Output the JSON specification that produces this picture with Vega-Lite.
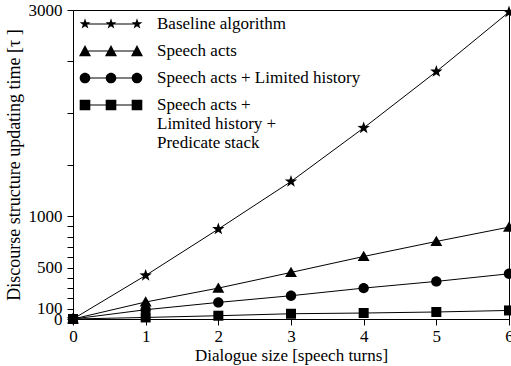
{
  "$schema": "https://vega.github.io/schema/vega-lite/v6.json",
  "autosize": "none",
  "width": 436,
  "height": 309,
  "padding": {"left": 73, "top": 10, "right": 2, "bottom": 47},
  "background": "white",
  "config": {
    "font": "Liberation Serif",
    "view": {"stroke": "black", "strokeWidth": 1},
    "axis": {
      "labelFont": "Liberation Serif",
      "titleFont": "Liberation Serif",
      "labelFontSize": 17,
      "titleFontSize": 17,
      "titleFontWeight": "normal",
      "labelColor": "black",
      "titleColor": "black",
      "domainColor": "black",
      "tickColor": "black",
      "grid": false,
      "labelFlush": false,
      "labelOverlap": false
    },
    "legend": {
      "labelFont": "Liberation Serif",
      "labelFontSize": 17,
      "labelColor": "black"
    }
  },
  "data": {
    "values": [
      {"turns": 0, "time": 0, "method": "Baseline algorithm"},
      {"turns": 1, "time": 423, "method": "Baseline algorithm"},
      {"turns": 2, "time": 873, "method": "Baseline algorithm"},
      {"turns": 3, "time": 1335, "method": "Baseline algorithm"},
      {"turns": 4, "time": 1855, "method": "Baseline algorithm"},
      {"turns": 5, "time": 2402, "method": "Baseline algorithm"},
      {"turns": 6, "time": 2980, "method": "Baseline algorithm"},
      {"turns": 0, "time": 0, "method": "Speech acts"},
      {"turns": 1, "time": 165, "method": "Speech acts"},
      {"turns": 2, "time": 300, "method": "Speech acts"},
      {"turns": 3, "time": 452, "method": "Speech acts"},
      {"turns": 4, "time": 607, "method": "Speech acts"},
      {"turns": 5, "time": 753, "method": "Speech acts"},
      {"turns": 6, "time": 892, "method": "Speech acts"},
      {"turns": 0, "time": 0, "method": "Speech acts + Limited history"},
      {"turns": 1, "time": 90, "method": "Speech acts + Limited history"},
      {"turns": 2, "time": 161, "method": "Speech acts + Limited history"},
      {"turns": 3, "time": 226, "method": "Speech acts + Limited history"},
      {"turns": 4, "time": 300, "method": "Speech acts + Limited history"},
      {"turns": 5, "time": 365, "method": "Speech acts + Limited history"},
      {"turns": 6, "time": 439, "method": "Speech acts + Limited history"},
      {"turns": 0, "time": 0, "method": "Speech acts + Limited history + Predicate stack"},
      {"turns": 1, "time": 15, "method": "Speech acts + Limited history + Predicate stack"},
      {"turns": 2, "time": 32, "method": "Speech acts + Limited history + Predicate stack"},
      {"turns": 3, "time": 51, "method": "Speech acts + Limited history + Predicate stack"},
      {"turns": 4, "time": 58, "method": "Speech acts + Limited history + Predicate stack"},
      {"turns": 5, "time": 68, "method": "Speech acts + Limited history + Predicate stack"},
      {"turns": 6, "time": 83, "method": "Speech acts + Limited history + Predicate stack"}
    ]
  },
  "encoding": {
    "x": {
      "field": "turns",
      "type": "quantitative",
      "scale": {"domain": [0, 6], "nice": false, "zero": false},
      "axis": {
        "title": "Dialogue size [speech turns]",
        "values": [0, 1, 2, 3, 4, 5, 6],
        "format": "d",
        "tickSize": 6,
        "labelPadding": 3,
        "titlePadding": 3
      }
    },
    "y": {
      "field": "time",
      "type": "quantitative",
      "scale": {"domain": [0, 3000], "nice": false},
      "axis": {
        "title": "Discourse structure updating time [τ ]",
        "titleFontSize": 18,
        "values": [0, 100, 200, 300, 400, 500, 600, 700, 800, 900, 1000, 1500, 2000, 2500, 3000],
        "format": "d",
        "labelExpr": "indexof([0, 100, 500, 1000, 3000], datum.value) >= 0 ? datum.label : ''",
        "tickSize": 6,
        "labelPadding": 5,
        "titlePadding": 5
      }
    }
  },
  "resolve": {"scale": {"shape": "independent"}},
  "layer": [
    {
      "mark": {"type": "line", "color": "black", "strokeWidth": 1},
      "encoding": {"detail": {"field": "method"}}
    },
    {
      "mark": {"type": "point", "filled": true, "color": "black", "opacity": 1, "size": 169},
      "encoding": {
        "shape": {
          "field": "method",
          "type": "nominal",
          "legend": null,
          "scale": {
            "domain": ["Baseline algorithm", "Speech acts", "Speech acts + Limited history", "Speech acts + Limited history + Predicate stack"],
            "range": [
              "M0,-1L0.235,-0.324L0.951,-0.309L0.38,0.124L0.588,0.809L0,0.4L-0.588,0.809L-0.38,0.124L-0.951,-0.309L-0.235,-0.324Z",
              "M0,-0.88L0.92,0.7L-0.92,0.7Z",
              "M-0.8,0A0.8,0.8,0,1,0,0.8,0A0.8,0.8,0,1,0,-0.8,0Z",
              "M-0.77,-0.77L0.77,-0.77L0.77,0.77L-0.77,0.77Z"
            ]
          }
        }
      }
    },
    {
      "mark": {"type": "point", "filled": true, "color": "black", "opacity": 0, "size": 1},
      "encoding": {
        "shape": {
          "field": "method",
          "type": "nominal",
          "scale": {
            "domain": ["Baseline algorithm", "Speech acts", "Speech acts + Limited history", "Speech acts + Limited history + Predicate stack"],
            "range": [
              "M-1.368,-0.027L1.368,-0.027L1.368,0.027L-1.368,0.027ZM-1.368,-0.3L-1.297,-0.097L-1.083,-0.093L-1.254,0.037L-1.192,0.243L-1.368,0.12L-1.544,0.243L-1.482,0.037L-1.653,-0.093L-1.439,-0.097ZM0,-0.3L0.071,-0.097L0.285,-0.093L0.114,0.037L0.176,0.243L0,0.12L-0.176,0.243L-0.114,0.037L-0.285,-0.093L-0.071,-0.097ZM1.368,-0.3L1.439,-0.097L1.653,-0.093L1.482,0.037L1.544,0.243L1.368,0.12L1.192,0.243L1.254,0.037L1.083,-0.093L1.297,-0.097Z",
              "M-1.368,-0.027L1.368,-0.027L1.368,0.027L-1.368,0.027ZM-1.368,-0.316L-1.052,0.28L-1.684,0.28ZM0,-0.316L0.316,0.28L-0.316,0.28ZM1.368,-0.316L1.684,0.28L1.052,0.28Z",
              "M-1.368,-0.027L1.368,-0.027L1.368,0.027L-1.368,0.027ZM-1.648,0A0.28,0.28,0,1,1,-1.088,0A0.28,0.28,0,1,1,-1.648,0ZM-0.28,0A0.28,0.28,0,1,1,0.28,0A0.28,0.28,0,1,1,-0.28,0ZM1.088,0A0.28,0.28,0,1,1,1.648,0A0.28,0.28,0,1,1,1.088,0Z",
              "M-1.368,-0.027L1.368,-0.027L1.368,0.027L-1.368,0.027ZM-1.648,-0.28L-1.088,-0.28L-1.088,0.28L-1.648,0.28ZM-0.28,-0.28L0.28,-0.28L0.28,0.28L-0.28,0.28ZM1.088,-0.28L1.648,-0.28L1.648,0.28L1.088,0.28Z"
            ]
          },
          "legend": {
            "title": null,
            "orient": "none",
            "legendX": 19,
            "legendY": -5,
            "padding": 0,
            "symbolSize": 1444,
            "symbolStrokeWidth": 0,
            "symbolOpacity": 1,
            "symbolFillColor": "black",
            "labelOffset": 27,
            "labelLimit": 0,
            "rowPadding": 0,
            "labelExpr": "datum.label == 'Speech acts + Limited history + Predicate stack' ? ['Speech acts +', 'Limited history +', 'Predicate stack'] : datum.label",
            "encode": {
              "labels": {
                "lineHeight": {"value": 20}
              }
            }
          }
        }
      }
    }
  ]
}
